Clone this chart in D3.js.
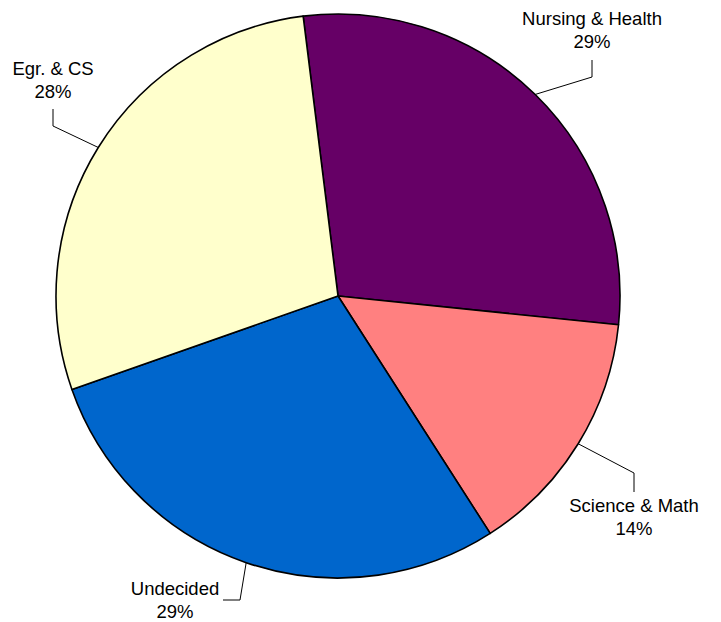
<!DOCTYPE html>
<html><head><meta charset="utf-8">
<script src="https://cdn.jsdelivr.net/npm/d3@7"></script>
<style>body{margin:0;background:#fff}svg{display:block}</style>
</head><body>
<script>
const categories = ["Nursing & Health", "Science & Math", "Undecided", "Egr. & CS"];
const values = [28.6, 14.3, 28.7, 28.4];
const colors = ["#660066", "#FF8080", "#0066CC", "#FFFFCC"];

const W = 721, H = 622, cx = 338, cy = 296, R = 282;
const startDeg = -7.1;
// label leader layout relative to pie center: elbow, end of leader, text anchor (center x, first baseline)
const layout = [
  {elbow:[254,-219], end:[254,-236], text:[254,-271]},
  {elbow:[296,177], end:[296,196], text:[296,216]},
  {elbow:[-98,304], end:[-115,304], text:[-163,299]},
  {elbow:[-285,-170], end:[-285,-187], text:[-285,-221]}
];

const svg = d3.select("body").append("svg").attr("width", W).attr("height", H);
const g = svg.append("g").attr("transform", `translate(${cx},${cy})`);
const s = startDeg * Math.PI / 180;
const pie = d3.pie().sort(null).startAngle(s).endAngle(s + 2 * Math.PI);
const arcs = pie(values);
const arc = d3.arc().innerRadius(0).outerRadius(R);
const edge = d3.arc().innerRadius(R).outerRadius(R);
const total = d3.sum(values);

g.selectAll("path.slice").data(arcs).join("path")
  .attr("class", "slice")
  .attr("d", arc)
  .attr("fill", (d, i) => colors[i])
  .attr("stroke", "#000").attr("stroke-width", 1.6).attr("stroke-linejoin", "round");

g.selectAll("polyline").data(arcs).join("polyline")
  .attr("points", (d, i) => {
    const a = (d.startAngle + d.endAngle) / 2;
    const p = [R * Math.sin(a), -R * Math.cos(a)];
    return [p, layout[i].elbow, layout[i].end].map(q => q.join(",")).join(" ");
  })
  .attr("fill", "none").attr("stroke", "#000").attr("stroke-width", 1);

const lbl = g.selectAll("text.lbl").data(arcs).join("text")
  .attr("class", "lbl")
  .attr("text-anchor", "middle")
  .attr("font-family", "Liberation Sans, Arial, sans-serif")
  .attr("font-size", "18.5px")
  .attr("fill", "#000");
lbl.append("tspan")
  .attr("x", (d, i) => layout[i].text[0]).attr("y", (d, i) => layout[i].text[1])
  .text((d, i) => categories[i]);
lbl.append("tspan")
  .attr("x", (d, i) => layout[i].text[0]).attr("y", (d, i) => layout[i].text[1] + 23)
  .text(d => Math.round(d.data / total * 100) + "%");
</script>
</body></html>
